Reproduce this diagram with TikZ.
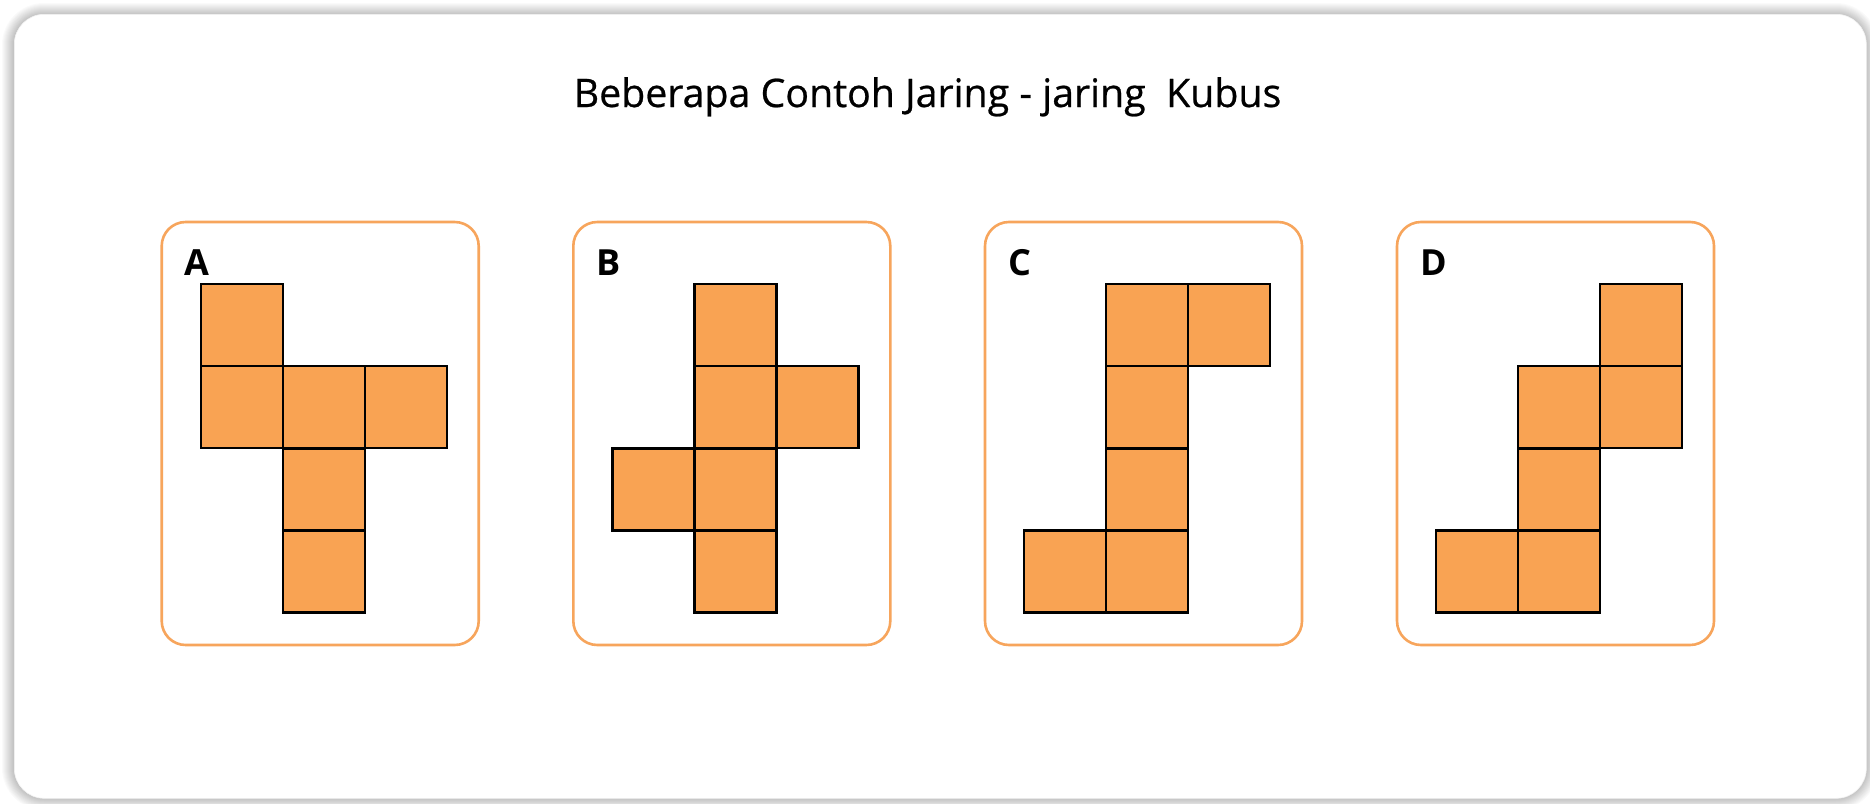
\documentclass[tikz,border=0pt]{standalone}
\usepackage{fontspec}
\setmainfont{Open Sans}
\newfontfamily\titlefont[FakeBold=0.6]{Open Sans}
\definecolor{netfill}{HTML}{F9A353}
\definecolor{panelline}{HTML}{F7A55C}
\definecolor{shadowgrey}{HTML}{000000}
\begin{document}
\begin{tikzpicture}[x=1pt,y=-1pt,
  panel/.style={draw=panelline, line width=2.6pt, rounded corners=24pt, fill=white,
    minimum width=317pt, minimum height=423pt, anchor=north west, inner sep=0pt, outer sep=0pt},
  sq/.style={draw=black, line width=2.4pt, fill=netfill, minimum size=82pt,
    anchor=north west, inner sep=0pt, outer sep=0pt},
  lab/.style={font=\bfseries\fontsize{36}{40}\selectfont, anchor=base west, inner sep=0pt},
  ttl/.style={font=\titlefont\fontsize{39.3}{44}\selectfont, anchor=base, inner sep=0pt}
]
\useasboundingbox (0,0) rectangle (1870,803);
\fill[white] (0,0) rectangle (1870,803);
% soft shadow of the outer card
\foreach \k in {1,...,12}{
  \fill[shadowgrey, opacity=0.02, rounded corners={30pt+\k pt}]
    (14-\k,14-\k+1) rectangle (1866+\k,798+\k);
}
\node[draw=black!5, line width=0.6pt, fill=white, rounded corners=30pt, minimum width=1852pt,
  minimum height=784pt, anchor=north west, inner sep=0pt] (card) at (14,14) {};
\node[ttl] (title) at (927.5,107) {Beberapa Contoh Jaring - jaring~~Kubus};
% panels
\node[panel] (pA) at (161.7,222) {};
\node[panel] (pB) at (573.3,222) {};
\node[panel] (pC) at (985,222) {};
\node[panel] (pD) at (1397,222) {};
\node[lab] (lA) at (184,275) {A};
\node[lab] (lB) at (596,275) {B};
\node[lab] (lC) at (1008,275) {C};
\node[lab] (lD) at (1420,275) {D};
% squares
\foreach \c/\r [count=\i] in {0/0,0/1,1/1,2/1,1/2,1/3}{
  \node[sq] (a\i) at (161.7+39+82*\c, 284+82.2*\r) {};}
\foreach \c/\r [count=\i] in {1/0,1/1,2/1,0/2,1/2,1/3}{
  \node[sq] (b\i) at (573.3+39+82*\c, 284+82.2*\r) {};}
\foreach \c/\r [count=\i] in {1/0,2/0,1/1,1/2,0/3,1/3}{
  \node[sq] (c\i) at (985+39+82*\c, 284+82.2*\r) {};}
\foreach \c/\r [count=\i] in {2/0,1/1,2/1,1/2,0/3,1/3}{
  \node[sq] (d\i) at (1397+39+82*\c, 284+82.2*\r) {};}
\end{tikzpicture}
\end{document}
